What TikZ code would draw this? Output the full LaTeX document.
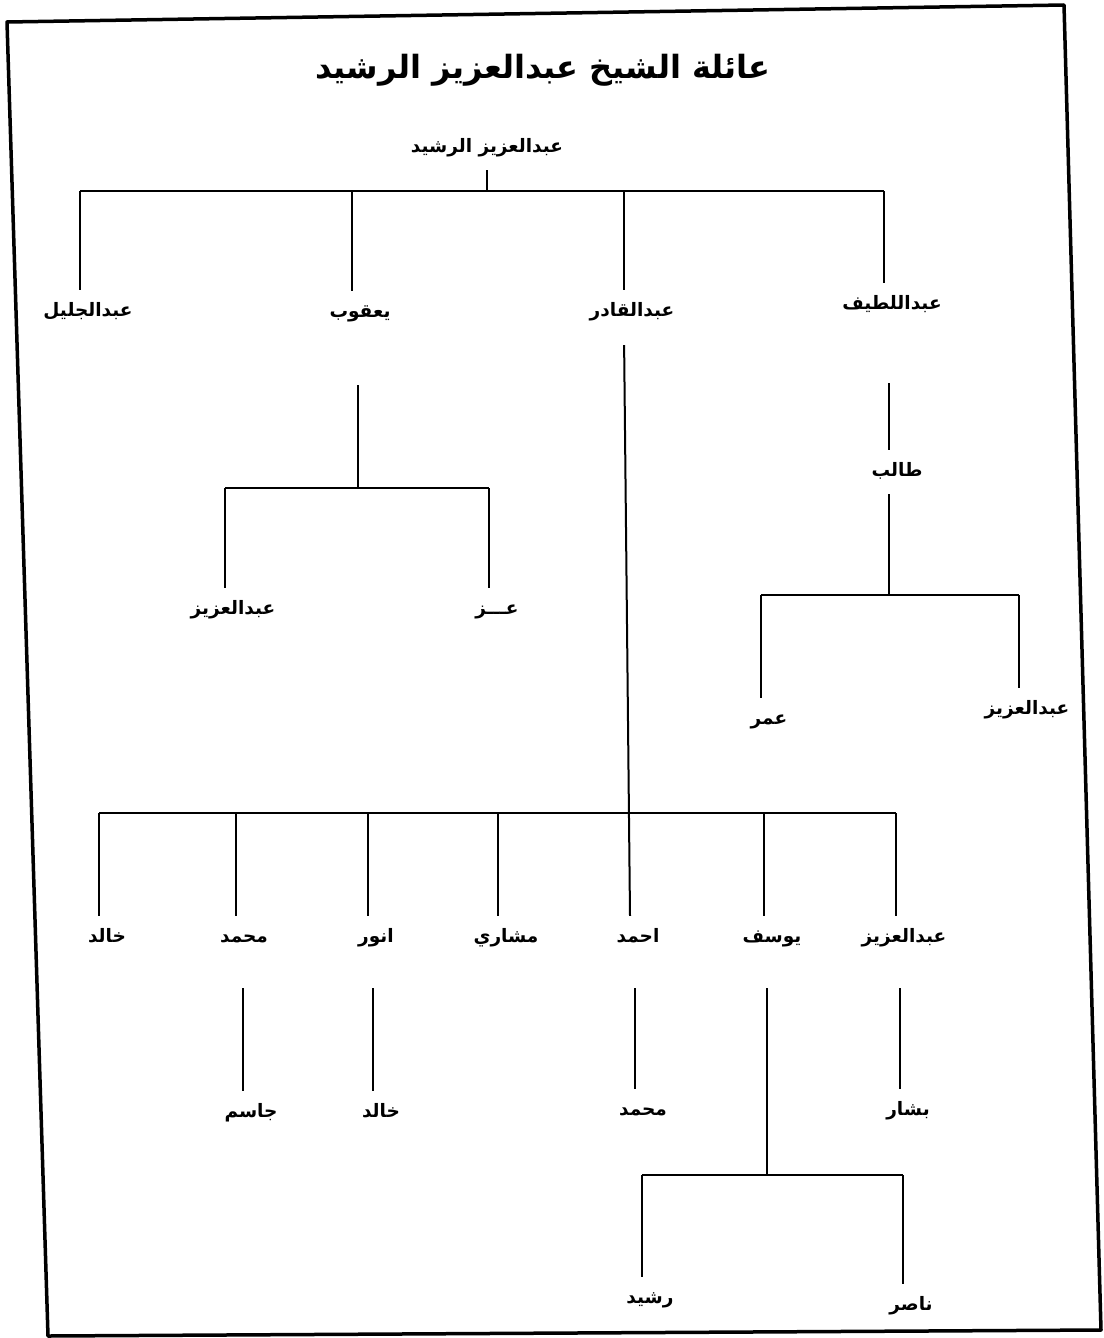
\documentclass[tikz,border=0pt]{standalone}
\usepackage{fontspec}
\usepackage{tikz}
\TeXXeTstate=1
\newfontfamily\arabicfont[Script=Arabic]{DejaVu Sans}
\newcommand{\namefont}{\arabicfont\bfseries\fontsize{18.5}{22}\selectfont}
\newcommand{\titlefont}{\arabicfont\bfseries\fontsize{32}{38}\selectfont}
\tikzset{
  namebase/.style={font=\namefont, inner sep=0pt, text height=14pt, text depth=5pt,
    minimum height=44pt, execute at begin node=\beginR, execute at end node=\endR},
  person/.style={execute at begin node={\hspace*{16pt}}, namebase},
  link/.style={line width=2pt},
  frame/.style={line width=3.5pt, line join=round},
}
\begin{document}
\begin{tikzpicture}[x=1pt,y=-1pt]
\useasboundingbox (0,0) rectangle (1103,1338);
% frame:
\draw[frame] (7,22) -- (1064,5) -- (1101,1330) -- (48,1336) -- cycle;
% title:
\node[namebase, font=\titlefont, text height=26pt, text depth=9pt] (title) at (543,70) {عائلة الشيخ عبدالعزيز الرشيد};
% generation 0:
\node[namebase] (root) at (487,148) {عبدالعزيز الرشيد};
\coordinate (bar0) at (487,191);
% generation 1:
\node[person] (abduljalil) at (80,312) {عبدالجليل};
\node[person] (yaqub) at (352,313) {يعقوب};
\node[person] (abdulqadir) at (624,312) {عبدالقادر};
\node[person] (abdullatif) at (884,305) {عبداللطيف};
\draw[link] (root.south) -- (bar0);
\draw[link] (abduljalil.north |- bar0) -- (abdullatif.north |- bar0);
\foreach \n in {abduljalil,yaqub,abdulqadir,abdullatif}
  \draw[link] (\n.north |- bar0) -- (\n.north);
% generation 2:
\coordinate (yqbar) at (358,488);
\node[person] (y-abdulaziz) at (225,610) {عبدالعزيز};
\node[person] (y-izz) at (489,610) {عـــز};
\draw[link, shorten <=50pt] (yaqub.south -| yqbar) -- (yqbar);
\draw[link] (y-abdulaziz.north |- yqbar) -- (y-izz.north |- yqbar);
\foreach \n in {y-abdulaziz,y-izz}
  \draw[link] (\n.north |- yqbar) -- (\n.north);
\node[person] (talib) at (889,472) {طالب};
\draw[link, shorten <=56pt] (abdullatif.south -| talib.north) -- (talib.north);
\coordinate (tbar) at (889,595);
\node[person] (umar) at (761,720) {عمر};
\node[person] (t-abdulaziz) at (1019,710) {عبدالعزيز};
\draw[link] (talib.south) -- (tbar);
\draw[link] (umar.north |- tbar) -- (t-abdulaziz.north |- tbar);
\foreach \n in {umar,t-abdulaziz}
  \draw[link] (\n.north |- tbar) -- (\n.north);
% generation 3:
\coordinate (qbar) at (620,813);
\node[person] (q-khalid) at (99,938) {خالد};
\node[person] (q-muhammad) at (236,938) {محمد};
\node[person] (anwar) at (368,938) {انور};
\node[person] (mishari) at (498,938) {مشاري};
\node[person] (ahmad) at (630,938) {احمد};
\node[person] (yusuf) at (764,938) {يوسف};
\node[person] (q-abdulaziz) at (896,938) {عبدالعزيز};
\draw[link, shorten <=11pt] (abdulqadir.south) -- (ahmad.north);
\draw[link] (q-khalid.north |- qbar) -- (q-abdulaziz.north |- qbar);
\foreach \n in {q-khalid,q-muhammad,anwar,mishari,yusuf,q-abdulaziz}
  \draw[link] (\n.north |- qbar) -- (\n.north);
% generation 4:
\node[person] (jasim) at (243,1113) {جاسم};
\node[person] (a-khalid) at (373,1113) {خالد};
\node[person] (a-muhammad) at (635,1111) {محمد};
\node[person] (bashar) at (900,1111) {بشار};
\draw[link, shorten <=28pt] (q-muhammad.south -| jasim.north) -- (jasim.north);
\draw[link, shorten <=28pt] (anwar.south -| a-khalid.north) -- (a-khalid.north);
\draw[link, shorten <=28pt] (ahmad.south -| a-muhammad.north) -- (a-muhammad.north);
\draw[link, shorten <=28pt] (q-abdulaziz.south -| bashar.north) -- (bashar.north);
% generation 5:
\coordinate (ybar) at (767,1175);
\node[person] (rashid) at (642,1299) {رشيد};
\node[person] (nasir) at (903,1306) {ناصر};
\draw[link, shorten <=28pt] (yusuf.south -| ybar) -- (ybar);
\draw[link] (rashid.north |- ybar) -- (nasir.north |- ybar);
\foreach \n in {rashid,nasir}
  \draw[link] (\n.north |- ybar) -- (\n.north);
\end{tikzpicture}
\end{document}
